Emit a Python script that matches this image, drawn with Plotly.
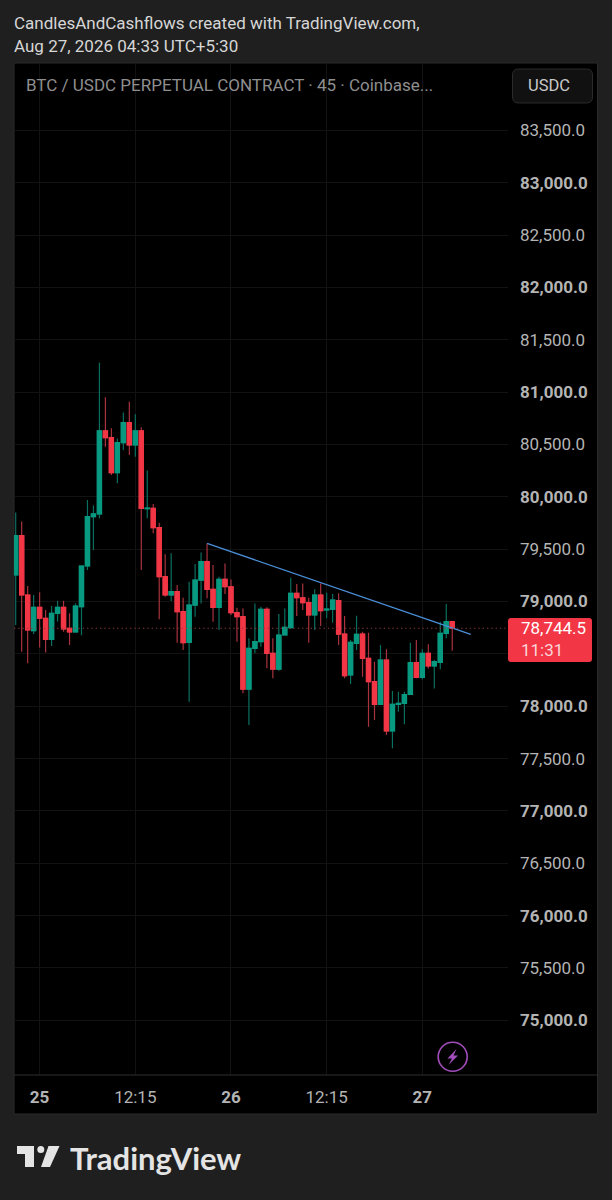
import pandas as pd
import plotly.graph_objects as go

opens = [79253,79629,79062,78722,78945,78840,78639,78887,78945,78744,78709,78951,79339,79811,79836,80629,80565,80231,80517,80708,80495,80629,79887,79890,79705,79238,
         79062,79094,78903,78610,78966,79205,79380,79116,78944,79211,79141,78893,78855,78164,78553,78616,78925,78505,78355,78680,78750,79078,79036,78989,78871,79062,78919,78925,
         79008,78689,78298,78600,78689,78457,78234,78018,78441,77763,78018,78027,78113,78416,78276,78505,78384,78419,78696,78807]
highs = [79849,79763,79148,79062,79088,78919,78957,79008,79008,78887,78983,79339,79970,79916,81281,80950,80654,80558,80804,80909,80788,80664,80250,79931,79753,79451,
         79460,79157,79036,79189,79358,79469,79555,79348,79237,79364,79211,78941,78934,78648,78982,78950,78944,78648,78880,78934,79227,79167,79173,79036,79116,79173,79084,79071,
         79078,78861,78632,78864,78712,78702,78425,78584,78543,78145,78139,78139,78607,78632,78543,78591,78441,78807,78976,78807]
lows = [78776,78521,78410,78690,78560,78512,78575,78808,78712,78585,78703,78677,79301,79492,79795,80479,80208,80129,80447,80399,80383,79301,79795,79651,78830,79046,
        79005,78607,78537,78043,78855,78982,79030,78807,78728,79071,78871,78616,78123,77820,78505,78568,78362,78266,78339,78680,78743,78861,78919,78607,78728,78766,78839,78798,
        78584,78266,78212,78537,78282,77804,77868,78018,77725,77598,77948,77827,78107,78266,78256,78361,78170,78352,78648,78530]
closes = [79629,79062,78728,78945,78840,78639,78887,78945,78738,78709,78957,79339,79811,79836,80629,80565,80231,80517,80708,80495,80629,79890,79893,79705,79238,79062,
          79094,78903,78607,78966,79205,79380,79116,78944,79211,79141,78893,78855,78164,78553,78616,78925,78505,78355,78680,78753,79078,79036,78989,78871,79062,78912,78928,79014,
          78689,78291,78610,78686,78457,78234,78018,78441,77763,78018,78027,78110,78416,78276,78505,78384,78425,78696,78807,78744.5]
trend_bars = [32, 76.1]
trend_prices = [79555, 78686]
last_price = 78744.5
price_ticks = [75000,75500,76000,76500,77000,77500,78000,78500,79000,79500,80000,80500,81000,81500,82000,82500,83000,83500]
time_tick_bars = [4, 20, 36, 52, 68]
time_tick_text = ["<b>25</b>", "12:15", "<b>26</b>", "12:15", "<b>27</b>"]
hidden_price_ticks = [78500]

BG, PANEL = "#1f1f1f", "#000000"
GREEN, RED = "#089981", "#f23645"
GREEN_W, RED_W = "#0b6f60", "#a8323e"
TXT = "#b4b4b4"
FONT = "Roboto"
PL, PR, PT, PB = 14, 508, 63, 1075
t0 = pd.Timestamp("2026-08-24 21:15")
bar = pd.Timedelta(minutes=45)
times = [t0 + i * bar for i in range(len(opens))]
def T(i):
    return t0 + pd.Timedelta(minutes=45 * i)
def X(p):
    return (p - PL) / (PR - PL)
def Y(p):
    return (PB - p) / (PB - PT)
def idx(p):
    return (p - 15.7) / 5.98
def price(p):
    return 79000 - (p - 601.5) * 9.551

fig = go.Figure()
fig.add_trace(go.Candlestick(x=times, open=opens, high=highs, low=lows, close=closes, whiskerwidth=0,
    increasing=dict(line=dict(color=GREEN_W, width=1.2), fillcolor=GREEN_W),
    decreasing=dict(line=dict(color=RED_W, width=1.2), fillcolor=RED_W), hoverinfo="skip", showlegend=False))
fig.add_trace(go.Candlestick(x=times, open=opens, close=closes,
    high=[max(a, b) for a, b in zip(opens, closes)], low=[min(a, b) for a, b in zip(opens, closes)], whiskerwidth=0,
    increasing=dict(line=dict(color=GREEN, width=1.2), fillcolor=GREEN),
    decreasing=dict(line=dict(color=RED, width=1.2), fillcolor=RED), hoverinfo="skip", showlegend=False))
fig.add_trace(go.Scatter(x=[T(i) for i in trend_bars], y=trend_prices, mode="lines",
    line=dict(color="#4a8fd8", width=1.3), hoverinfo="skip", showlegend=False))
fig.add_trace(go.Scatter(x=[T(idx(PL)), T(idx(PR))], y=[last_price, last_price], mode="lines",
    line=dict(color="#8c3640", width=1, dash="1.3px,3px"), hoverinfo="skip", showlegend=False))

def rrect(x0, y0, x1, y1, r):
    a, b, c, d = X(x0), X(x1), Y(y0), Y(y1)
    rx, ry = r / (PR - PL), r / (PB - PT)
    return (f"M{a+rx},{c} L{b-rx},{c} Q{b},{c} {b},{c-ry} L{b},{d+ry} Q{b},{d} {b-rx},{d} "
            f"L{a+rx},{d} Q{a},{d} {a},{d+ry} L{a},{c-ry} Q{a},{c} {a+rx},{c} Z")
def poly(pts):
    return "M" + " L".join(f"{X(x)},{Y(y)}" for x, y in pts) + " Z"

shapes = [
    dict(type="rect", xref="paper", yref="paper", x0=X(14), x1=X(597.5), y0=Y(63), y1=Y(1114), fillcolor=PANEL, line=dict(color="#2a2a2a", width=1), layer="below"),
    dict(type="line", xref="paper", yref="paper", x0=X(14), x1=X(597.5), y0=Y(1075), y1=Y(1075), line=dict(color="#2e2e2e", width=1.2), layer="above"),
    dict(type="path", xref="paper", yref="paper", path=rrect(512.5, 69, 592.5, 103, 6), fillcolor="#111111", line=dict(color="#2b2b2b", width=1), layer="above"),
    dict(type="path", xref="paper", yref="paper", path=rrect(508, 618, 592, 662, 3), fillcolor="#f23645", line=dict(width=0), layer="above"),
    dict(type="circle", xref="paper", yref="paper", x0=X(438.2), x1=X(467.2), y0=Y(1042.2), y1=Y(1071.2), fillcolor="rgba(0,0,0,0)", line=dict(color="#a24dbb", width=1.6), layer="above"),
    dict(type="path", xref="paper", yref="paper", path=poly([(456.5,1049),(447.5,1058.5),(452,1058.5),(448.5,1065),(458,1055.5),(453.5,1055.5)]), fillcolor="#a24dbb", line=dict(width=0), layer="above"),
    dict(type="path", xref="paper", yref="paper", path=poly([(17,1146),(34,1146),(34,1167),(25,1167),(25,1154),(17,1154)]), fillcolor="#e4e4e4", line=dict(width=0), layer="above"),
    dict(type="circle", xref="paper", yref="paper", x0=X(37.3), x1=X(44.3), y0=Y(1146), y1=Y(1153), fillcolor="#e4e4e4", line=dict(width=0), layer="above"),
    dict(type="path", xref="paper", yref="paper", path=poly([(48.5,1146),(59.5,1146),(50,1167),(41,1167)]), fillcolor="#e4e4e4", line=dict(width=0), layer="above"),
]
def note(x, y, text, size, color, anchor="left", family=FONT):
    return dict(xref="paper", yref="paper", x=X(x), y=Y(y), text=text, showarrow=False, xanchor=anchor, yanchor="middle",
                font=dict(size=size, color=color, family=family), align="left", xshift=-2)
annotations = [
    note(14, 23, "CandlesAndCashflows created with TradingView.com,", 17, "#d6d6d6"),
    note(14, 46, "Aug 27, 2026 04:33 UTC+5:30", 17, "#d6d6d6"),
    note(26, 85, "BTC / USDC PERPETUAL CONTRACT · 45 · Coinbase...", 17, "#8f8f8f"),
    note(528, 86, "USDC", 16.5, "#c8c8c8"),
    note(521, 628, "78,744.5", 17, "#ffffff"),
    note(521, 650, "11:31", 17, "#fbd5d9"),
    note(70, 1158, "<b>TradingView</b>", 31, "#e4e4e4", family="Lato"),
]
ticktext = ["" if v in hidden_price_ticks else f"<b>{v:,.1f}</b>" if v % 1000 == 0 else f"{v:,.1f}" for v in price_ticks]
fig.update_layout(
    width=612, height=1200, paper_bgcolor=BG, plot_bgcolor=PANEL,
    margin=dict(l=PL, r=612 - PR, t=PT, b=1200 - PB, pad=0), boxgap=0.3, boxgroupgap=0, showlegend=False,
    font=dict(family=FONT, size=17, color=TXT), shapes=shapes, annotations=annotations,
    xaxis=dict(type="date", range=[T(idx(PL)), T(idx(PR))], rangeslider=dict(visible=False), tickvals=[T(i) for i in time_tick_bars],
               ticktext=time_tick_text, showgrid=True, gridcolor="#121212", gridwidth=1, zeroline=False, showline=False, ticks="",
               tickfont=dict(size=17, color=TXT, family=FONT), ticklabelstandoff=10),
    yaxis=dict(side="right", range=[price(PB), price(PT)], tickvals=price_ticks, ticktext=ticktext, showgrid=True, gridcolor="#121212",
               gridwidth=1, zeroline=False, showline=False, ticks="", tickfont=dict(size=17, color=TXT, family=FONT), ticklabelstandoff=11),
)
fig.write_html("out.html", config=dict(displayModeBar=False), post_script="document.body.style.margin='0';")
